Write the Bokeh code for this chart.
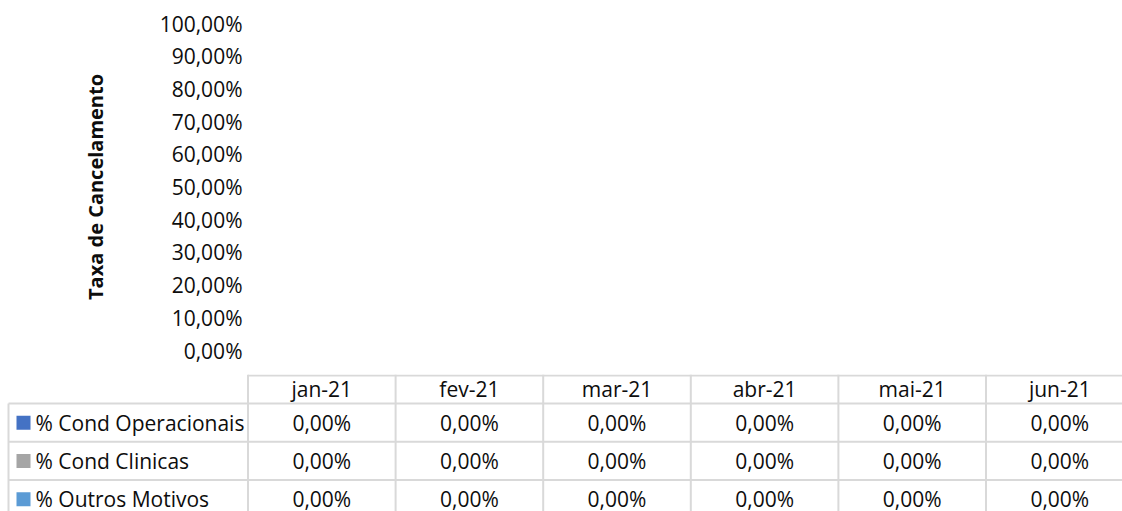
import numpy as np
from bokeh.plotting import figure
from bokeh.models import Range1d, FixedTicker, CustomJSTickFormatter, ColumnDataSource
from bokeh.core.properties import value
from bokeh.embed import file_html
from bokeh.resources import INLINE

# ---------------- data ----------------
months = ["jan-21", "fev-21", "mar-21", "abr-21", "mai-21", "jun-21"]
series_names = ["% Cond Operacionais", "% Cond Clinicas", "% Outros Motivos"]
cond_operacionais = [0.0, 0.0, 0.0, 0.0, 0.0, 0.0]
cond_clinicas = [0.0, 0.0, 0.0, 0.0, 0.0, 0.0]
outros_motivos = [0.0, 0.0, 0.0, 0.0, 0.0, 0.0]
y_ticks = [0.0, 0.1, 0.2, 0.3, 0.4, 0.5, 0.6, 0.7, 0.8, 0.9, 1.0]
y_title = "Taxa de Cancelamento"

colors = ["#4472C4", "#A5A5A5", "#5B9BD5"]
FONT = "Open Sans"
FS = "21px"
TXT = "#0d0d0d"
GRID = "#d9d9d9"

# ---------------- layout constants ----------------
W = 1122
TOP_H = 374
BOT_H = 137
LEFT = 248
COL_PX = 147.6
COL0_PX = 247.5
x_end = (W - COL0_PX) / COL_PX

def pct(v):
    return f"{v * 100:.2f}".replace(".", ",") + "%"

series_values = [cond_operacionais, cond_clinicas, outros_motivos]
n = len(months)
xs = list(np.arange(n) + 0.5)

# ---------------- top chart ----------------
top = figure(width=W, height=TOP_H, output_backend="svg", toolbar_location=None,
             x_range=Range1d(0, x_end), y_range=Range1d(0, 1),
             min_border_left=LEFT, min_border_right=0, min_border_top=23,
             min_border_bottom=24)
src = ColumnDataSource(dict(x=xs, s0=cond_operacionais, s1=cond_clinicas, s2=outros_motivos))
top.vbar_stack(["s0", "s1", "s2"], x="x", width=0.5, color=colors, source=src, line_color=None)
top.xaxis.visible = False
top.xgrid.visible = False
top.ygrid.visible = False
top.outline_line_color = None
yax = top.yaxis[0]
yax.ticker = FixedTicker(ticks=y_ticks)
yax.formatter = CustomJSTickFormatter(code="return (tick*100).toFixed(2).replace('.', ',') + '%';")
yax.axis_line_color = None
yax.major_tick_line_color = None
yax.minor_tick_line_color = None
yax.major_tick_out = 0
yax.major_label_standoff = 6
yax.major_label_text_font = FONT
yax.major_label_text_font_size = FS
yax.major_label_text_color = TXT
yax.axis_label = y_title
yax.axis_label_text_font = FONT
yax.axis_label_text_font_style = "bold"
yax.axis_label_text_font_size = "20px"
yax.axis_label_text_color = TXT
yax.axis_label_standoff = 48

# ---------------- data table ----------------
x_start = -COL0_PX / COL_PX
ROW_PX = 38.3
h = 29 / ROW_PX
y_bottom = BOT_H / ROW_PX
bot = figure(width=W, height=BOT_H, output_backend="svg", toolbar_location=None,
             x_range=Range1d(x_start, x_end), y_range=Range1d(y_bottom, 0),
             min_border_left=0, min_border_right=0, min_border_top=0, min_border_bottom=0)
bot.axis.visible = False
bot.grid.visible = False
bot.outline_line_color = None

left_edge = x_start + 8.0 / COL_PX
# horizontal lines
hy = [1.0 / ROW_PX] + [h + i for i in range(len(series_names))]
hx0 = [0.0] + [left_edge] * len(series_names)
bot.segment(x0=hx0, y0=hy, x1=[x_end + 1] * len(hy), y1=hy, line_color=GRID, line_width=2)
# vertical lines
vx = [left_edge] + list(range(0, n + 1))
vy0 = [h] + [0.0] * (n + 1)
bot.segment(x0=vx, y0=vy0, x1=vx, y1=[y_bottom + 1] * len(vx), line_color=GRID, line_width=2)

# header labels
bot.text(x=xs, y=[h / 2] * n, text=months, text_font=value(FONT), text_font_size=FS,
         text_color=TXT, text_align="center", text_baseline="middle")

# row labels + legend keys
row_y = [h + i + 0.5 for i in range(len(series_names))]
key_x = x_start + 23.0 / COL_PX
lab_x = x_start + 35.0 / COL_PX
bot.scatter(x=[key_x] * len(series_names), y=row_y, marker="square", size=14,
            fill_color=colors, line_color=None)
bot.text(x=[lab_x] * len(series_names), y=row_y, text=series_names, text_font=value(FONT),
         text_font_size=FS, text_color=TXT, text_align="left", text_baseline="middle")

# values
vx_all, vy_all, vt_all = [], [], []
for r, vals in enumerate(series_values):
    for i, v in enumerate(vals):
        vx_all.append(xs[i]); vy_all.append(row_y[r]); vt_all.append(pct(v))
bot.text(x=vx_all, y=vy_all, text=vt_all, text_font=value(FONT), text_font_size=FS,
         text_color=TXT, text_align="center", text_baseline="middle")

open("out.html", "w").write(file_html([top, bot], INLINE))
